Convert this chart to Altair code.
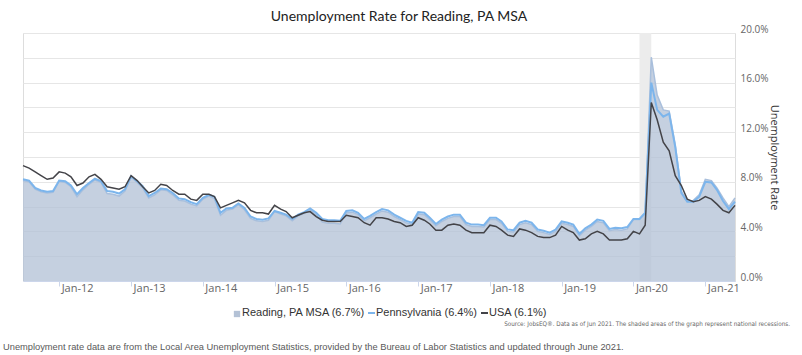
import altair as alt
import pandas as pd

# ---- data ----
months = pd.date_range("2011-07-01", periods=120, freq="MS").strftime("%Y-%m-%d").tolist()

usa = [9.3, 9.1, 8.8, 8.5, 8.2, 8.3,
       8.8, 8.7, 8.4, 7.7, 7.9, 8.4, 8.6, 8.2, 7.6, 7.5, 7.4, 7.6,
       8.5, 8.1, 7.6, 7.1, 7.3, 7.8, 7.7, 7.3, 7.0, 7.0, 6.6, 6.5,
       7.0, 7.0, 6.8, 5.9, 6.1, 6.3, 6.5, 6.3, 5.7, 5.5, 5.5, 5.4,
       6.1, 5.8, 5.6, 5.1, 5.3, 5.5, 5.6, 5.2, 4.9, 4.8, 4.8, 4.8,
       5.3, 5.2, 5.1, 4.7, 4.5, 5.1, 5.1, 5.0, 4.8, 4.7, 4.4, 4.5,
       5.1, 4.9, 4.6, 4.1, 4.1, 4.5, 4.6, 4.5, 4.1, 3.9, 3.9, 3.9,
       4.5, 4.4, 4.1, 3.7, 3.6, 4.2, 4.1, 3.9, 3.6, 3.5, 3.5, 3.7,
       4.4, 4.1, 3.9, 3.3, 3.4, 3.8, 4.0, 3.8, 3.3, 3.3, 3.3, 3.4,
       4.0, 3.8, 4.5, 14.4, 13.0, 11.2, 10.5, 8.5, 7.7, 6.6, 6.4, 6.5,
       6.8, 6.6, 6.2, 5.7, 5.5, 6.1]

pennsylvania = [8.2, 8.1, 7.5, 7.3, 7.2, 7.25,
                8.1, 8.05, 7.7, 7.0, 7.5, 7.9, 8.25, 8.05, 7.25, 7.2, 7.05, 7.4,
                8.45, 8.05, 7.65, 6.85, 7.1, 7.45, 7.4, 7.1, 6.65, 6.6, 6.35, 6.2,
                6.7, 6.95, 6.8, 5.5, 5.85, 5.9, 6.25, 5.9, 5.2, 5.0, 4.95, 5.05,
                5.65, 5.5, 5.35, 5.0, 5.35, 5.55, 5.85, 5.5, 5.0, 4.9, 4.9, 4.85,
                5.65, 5.7, 5.5, 5.0, 5.25, 5.55, 5.8, 5.7, 5.35, 5.1, 4.85, 4.7,
                5.55, 5.5, 5.1, 4.6, 4.95, 5.2, 5.35, 5.35, 4.7, 4.55, 4.55, 4.5,
                5.1, 5.1, 4.8, 4.15, 4.1, 4.7, 4.85, 4.7, 4.15, 4.05, 3.9, 4.15,
                4.8, 4.7, 4.55, 3.8, 4.25, 4.55, 4.95, 4.85, 4.2, 4.3, 4.25, 4.35,
                5.0, 5.0, 5.5, 16.0, 13.8, 13.25, 13.5, 10.8, 7.1, 6.4, 6.4, 6.8,
                8.0, 7.95, 7.35, 6.45, 5.8, 6.4]

reading = [8.1, 8.0, 7.4, 7.2, 7.1, 7.15,
           8.05, 7.95, 7.6, 6.8, 7.35, 7.8, 8.15, 7.95, 7.05, 7.0, 6.85, 7.25,
           8.4, 7.95, 7.5, 6.7, 6.95, 7.35, 7.3, 6.95, 6.5, 6.45, 6.2, 6.05,
           6.6, 6.85, 6.65, 5.3, 5.7, 5.8, 6.15, 5.75, 5.05, 4.85, 4.8, 4.9,
           5.6, 5.4, 5.25, 4.85, 5.25, 5.45, 5.75, 5.35, 4.75, 4.65, 4.65, 4.6,
           5.5, 5.55, 5.35, 4.85, 5.1, 5.4, 5.65, 5.55, 5.2, 4.95, 4.7, 4.55,
           5.4, 5.35, 4.95, 4.45, 4.8, 5.05, 5.2, 5.2, 4.55, 4.4, 4.4, 4.35,
           4.95, 4.95, 4.65, 4.0, 3.95, 4.55, 4.7, 4.55, 4.0, 3.9, 3.75, 4.0,
           4.65, 4.55, 4.4, 3.65, 4.1, 4.4, 4.8, 4.7, 4.05, 4.15, 4.1, 4.2,
           4.95, 4.95, 5.45, 18.05, 15.0, 13.8, 13.7, 11.0, 7.25, 6.45, 6.5, 6.95,
           8.2, 8.1, 7.5, 6.7, 6.0, 6.7]

recession_start = ["2020-02-01"]
recession_end = ["2020-04-01"]
tick_years = list(range(2012, 2022))

df = pd.DataFrame({"month": months, "usa": usa, "pa": pennsylvania, "reading": reading})
rec = pd.DataFrame({"start": recession_start, "end": recession_end})
one = pd.DataFrame({"k": [0]})

W, H = 712, 248

xscale = alt.Scale(type="utc",
                   domain=[alt.DateTime(year=2011, month=7, date=1, utc=True),
                           alt.DateTime(year=2021, month=6, date=1, utc=True)])
xaxis = alt.Axis(values=[alt.DateTime(year=y, month=1, date=1, utc=True) for y in tick_years],
                 labelExpr="utcFormat(datum.value, '%b-%y')",
                 labelAlign="left", labelOffset=2, labelBaseline="top", labelPadding=-4,
                 labelFont="Open Sans", labelFontSize=11, labelColor="#666666",
                 grid=False, tickSize=5, tickColor="#ccd6eb", domainColor="#ccd6eb",
                 labelFlush=False, labelOverlap=False)
yscale = alt.Scale(domain=[0, 20], nice=False)
yaxis = alt.Axis(orient="right", values=list(range(0, 21, 2)),
                 labelExpr="datum.value % 4 === 0 ? format(datum.value, '.1f') + '%' : ''",
                 grid=True, gridColor="#e6e6e6", domain=False, ticks=False,
                 labelPadding=5, labelOffset=-4, labelFont="Open Sans", labelFontSize=10,
                 labelColor="#666666",
                 title="Unemployment Rate", titleFont="Open Sans", titleFontSize=11,
                 titleFontWeight="normal", titleColor="#333333", titleAngle=90,
                 titleX=38, titleY=124, titleAlign="center", titleBaseline="middle")

X = alt.X("month:T", scale=xscale, axis=xaxis, title=None)


def Y(field):
    return alt.Y(f"{field}:Q", scale=yscale, axis=yaxis)


band = alt.Chart(rec).mark_rect(color="#ececec").encode(
    x=alt.X("start:T", scale=xscale, axis=xaxis, title=None), x2="end:T")

area = alt.Chart(df).mark_area(color="#b2c0d6", fillOpacity=0.75).encode(x=X, y=Y("reading"))
area_line = alt.Chart(df).mark_line(color="#a9bfdc", strokeWidth=1.5).encode(x=X, y=Y("reading"))
pa_line = alt.Chart(df).mark_line(color="#7cb5ec", strokeWidth=2).encode(x=X, y=Y("pa"))
usa_line = alt.Chart(df).mark_line(color="#434348", strokeWidth=1.5).encode(x=X, y=Y("usa"))

title = alt.Chart(one).mark_text(text="Unemployment Rate for Reading, PA MSA", font="Lato",
                                 fontSize=14, color="#222222", align="center",
                                 baseline="middle").encode(x=alt.value(376), y=alt.value(-16))

leg_font = dict(font="Liberation Sans", fontSize=11, color="#333333", align="left", baseline="middle")
leg_sq = alt.Chart(one).mark_square(color="#b4c2d6", size=40, opacity=1).encode(
    x=alt.value(214), y=alt.value(281))
leg_t1 = alt.Chart(one).mark_text(text="Reading, PA MSA (6.7%)", **leg_font).encode(
    x=alt.value(219), y=alt.value(280))
leg_d2 = alt.Chart(one).mark_rule(color="#7cb5ec", strokeWidth=2).encode(
    x=alt.value(345), x2=alt.value(352), y=alt.value(280))
leg_t2 = alt.Chart(one).mark_text(text="Pennsylvania (6.4%)", **leg_font).encode(
    x=alt.value(353), y=alt.value(280))
leg_d3 = alt.Chart(one).mark_rule(color="#434348", strokeWidth=2).encode(
    x=alt.value(458), x2=alt.value(465), y=alt.value(280))
leg_t3 = alt.Chart(one).mark_text(text="USA (6.1%)", **leg_font).encode(
    x=alt.value(466), y=alt.value(280))

source = alt.Chart(one).mark_text(
    text="Source: JobsEQ®. Data as of Jun 2021. The shaded areas of the graph represent national recessions.",
    font="DejaVu Sans Condensed", fontSize=6.3, color="#666666", align="right",
    baseline="middle").encode(x=alt.value(767), y=alt.value(291))

footnote = alt.Chart(one).mark_text(
    text="Unemployment rate data are from the Local Area Unemployment Statistics, provided by the Bureau of Labor Statistics and updated through June 2021.",
    font="Liberation Sans", fontSize=9.3, color="#595959", align="left",
    baseline="middle").encode(x=alt.value(-20), y=alt.value(314))

chart = alt.layer(band, area, area_line, pa_line, usa_line, title,
                  leg_sq, leg_t1, leg_d2, leg_t2, leg_d3, leg_t3, source, footnote).properties(
    width=W, height=H,
    autosize=alt.AutoSizeParams(type="none"),
    padding={"left": 23, "top": 33, "right": 67, "bottom": 74},
).configure_view(stroke=None).configure(background="white")

chart.save("out.html", embed_options={"renderer": "svg", "actions": False})
